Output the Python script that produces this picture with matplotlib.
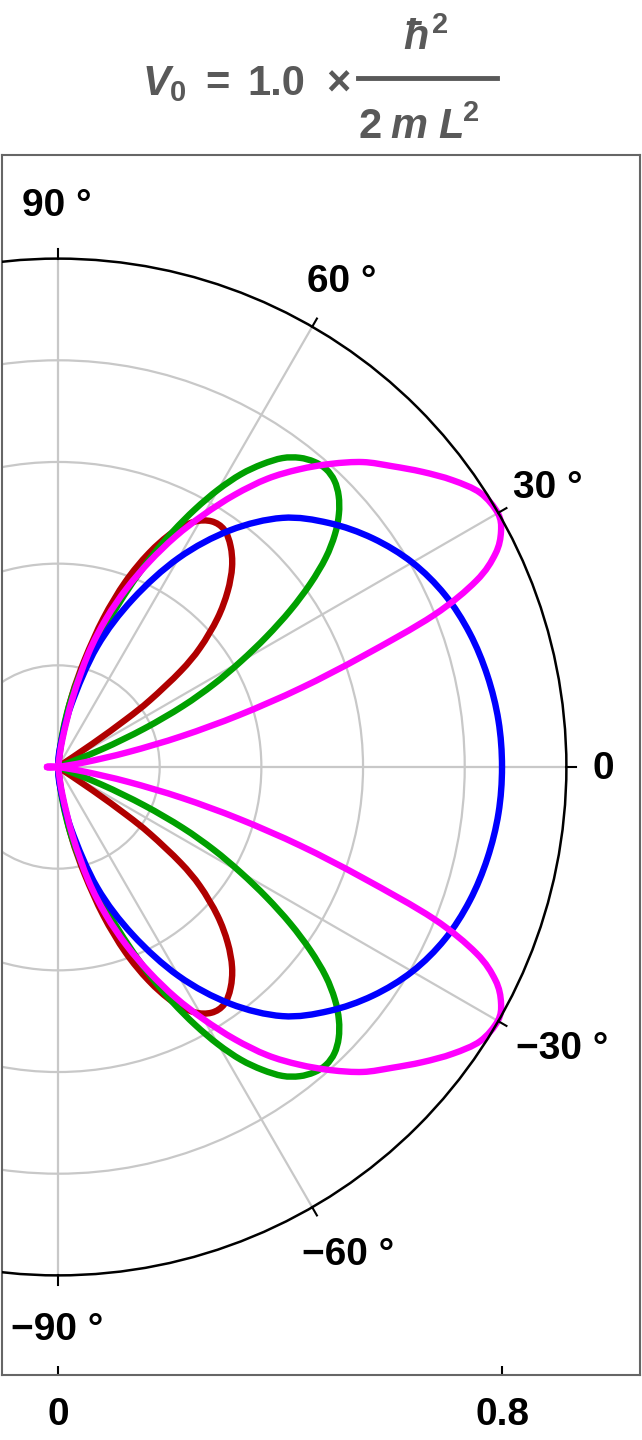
import matplotlib
matplotlib.use("Agg")
import matplotlib.pyplot as plt
from matplotlib.patches import Circle, PathPatch
from matplotlib.path import Path
from matplotlib.lines import Line2D
import numpy as np

# Полярные кривые r(theta), theta в градусах (картина симметрична относительно 0°)
blue_theta = [0, 6, 12, 18, 24, 30, 36, 42, 48, 54, 60, 66, 72, 78, 84, 90]
blue_r = [0.800, 0.798, 0.791, 0.780, 0.763, 0.737, 0.701, 0.657, 0.604, 0.527,
          0.435, 0.331, 0.228, 0.115, 0.035, 0.000]

red_theta = [33, 34, 35, 36, 38, 40, 43, 46, 49, 52, 55, 58, 61, 64, 67, 70, 73, 76,
             79, 82, 84]
red_r = [0.000, 0.075, 0.150, 0.205, 0.280, 0.334, 0.393, 0.440, 0.478, 0.505,
         0.522, 0.522, 0.505, 0.470, 0.418, 0.355, 0.280, 0.200, 0.130, 0.055, 0.000]

green_theta = [20, 22, 24, 26, 28, 30, 32, 34, 36, 38, 40, 42, 44, 46, 48, 50, 52, 54,
               56, 58, 60, 62, 64, 66, 68, 70, 72, 74, 76, 78, 80, 82, 84, 86]
green_r = [0.000, 0.085, 0.170, 0.250, 0.318, 0.380, 0.443, 0.505, 0.562, 0.612,
           0.651, 0.681, 0.703, 0.717, 0.722, 0.718, 0.707, 0.688, 0.658, 0.622,
           0.577, 0.526, 0.472, 0.416, 0.358, 0.303, 0.258, 0.220, 0.183, 0.146,
           0.109, 0.070, 0.030, 0.000]

magenta_theta = [0, 4, 8, 10, 12, 14, 16, 18, 20, 22, 24, 26, 28, 30, 33, 36, 39, 42,
                 45, 48, 51, 54, 57, 60, 63, 66, 69, 72, 75, 78, 81, 83]
magenta_r = [-0.020, -0.016, 0.000, 0.050, 0.130, 0.230, 0.340, 0.460, 0.585, 0.730,
             0.825, 0.877, 0.904, 0.915, 0.907, 0.879, 0.845, 0.810, 0.777, 0.735,
             0.690, 0.642, 0.585, 0.525, 0.466, 0.405, 0.344, 0.281, 0.212, 0.128,
             0.050, 0.000]

r_outer = 0.916
angle_ticks = [90, 60, 30, 0, -30, -60, -90]
angle_labels = ["90 °", "60 °", "30 °", "0", "\u221230 °", "\u221260 °", "\u221290 °"]
x_ticks = [0, 0.8]
x_tick_labels = ["0", "0.8"]

plt.rcParams["font.family"] = ["Liberation Sans", "DejaVu Sans"]
plt.rcParams["mathtext.fontset"] = "custom"
plt.rcParams["mathtext.rm"] = "Liberation Sans:bold"
plt.rcParams["mathtext.bf"] = "Liberation Sans:bold"
plt.rcParams["mathtext.it"] = "Liberation Sans:italic:bold"


def smooth_path(xs, ys):
    # гладкая линия через точки (сплайн Катмулла-Рома в виде кривых Безье)
    p = np.column_stack([xs, ys])
    p = np.vstack([p[:1], p, p[-1:]])
    verts = [p[1]]
    codes = [Path.MOVETO]
    for i in range(1, len(p) - 2):
        c1 = p[i] + (p[i + 1] - p[i - 1]) / 6
        c2 = p[i + 1] - (p[i + 2] - p[i]) / 6
        verts += [c1, c2, p[i + 1]]
        codes += [Path.CURVE4] * 3
    return Path(verts, codes)


def polar_branches(theta, r):
    th = np.deg2rad(theta)
    r = np.array(r)
    if theta[0] == 0:
        # одна ветвь через 0°
        th = np.concatenate([-th[::-1], th[1:]])
        r = np.concatenate([r[::-1], r[1:]])
        return [(r * np.cos(th), r * np.sin(th))]
    return [(r * np.cos(th), s * r * np.sin(th)) for s in (1, -1)]


W, H = 642, 1440
fig = plt.figure(figsize=(W / 100, H / 100), dpi=100)
ax = fig.add_axes([2 / W, 1 - 1375 / H, 638 / W, 1220 / H])

# Сетка
grid_c = "#c8c8c8"
for k in range(1, 5):
    ax.add_patch(Circle((0, 0), r_outer * k / 5, fill=False, ec=grid_c, lw=1.6, zorder=1))
for a in angle_ticks:
    t = np.deg2rad(a)
    ax.plot([0, r_outer * np.cos(t)], [0, r_outer * np.sin(t)], color=grid_c, lw=1.6, zorder=1)

# Кривые
lw = 4.6
curves = [(red_theta, red_r, "#b00000"), (green_theta, green_r, "#00a000"),
          (blue_theta, blue_r, "#0000ff"), (magenta_theta, magenta_r, "#ff00ff")]
for th, rr, col in curves:
    for bx, by in polar_branches(th, rr):
        ax.add_patch(PathPatch(smooth_path(bx, by), fill=False, ec=col, lw=lw,
                               capstyle="butt", zorder=3))

# Внешняя окружность и метки углов
ax.add_patch(Circle((0, 0), r_outer, fill=False, ec="black", lw=1.8, zorder=4))
label_pos = [(-0.002, 1.010), (0.512, 0.874), (0.883, 0.502), (0.982, -0.003),
             (0.908, -0.508), (0.523, -0.879), (-0.002, -1.014)]
for a, lab, (lx, ly) in zip(angle_ticks, angle_labels, label_pos):
    t = np.deg2rad(a)
    ax.plot([r_outer * np.cos(t), (r_outer + 0.017) * np.cos(t)],
            [r_outer * np.sin(t), (r_outer + 0.017) * np.sin(t)],
            color="black", lw=1.5, zorder=4)
    ax.text(lx, ly, lab, fontsize=28, fontweight="bold", ha="center", va="center")

ax.set_xlim(-0.1009, 1.0486)
ax.set_ylim(-1.0955, 1.1027)
ax.set_aspect("equal")
ax.set_xticks(x_ticks)
ax.set_xticklabels(x_tick_labels, fontsize=28, fontweight="bold")
ax.set_yticks([])
ax.tick_params(axis="x", direction="in", length=6.5, width=1.5, color="black", pad=16)
for s in ax.spines.values():
    s.set_color("#666666")
    s.set_linewidth(1.5)

# Заголовок
tc = "#595959"
fs = 30
fig.text(142 / W, 1 - 95 / H, r"$V_0$", fontsize=fs, color=tc, ha="left", va="baseline")
fig.text(217 / W, 1 - 95 / H, "=", fontsize=fs, color=tc, fontweight="bold",
         ha="center", va="baseline")
fig.text(276 / W, 1 - 95 / H, "1.0", fontsize=fs, color=tc, fontweight="bold",
         ha="center", va="baseline")
fig.text(338 / W, 1 - 95 / H, "\u00d7", fontsize=fs, color=tc, fontweight="bold",
         ha="center", va="baseline")
fig.add_artist(Line2D([358 / W, 497 / W], [1 - 78 / H, 1 - 78 / H], color=tc, lw=3.5))
fig.text(426 / W, 1 - 50 / H, r"$\hbar^2$", fontsize=fs, color=tc, ha="center", va="baseline")
fig.text(370 / W, 1 - 138 / H, "2", fontsize=fs, color=tc, fontweight="bold",
         ha="center", va="baseline")
fig.text(409 / W, 1 - 138 / H, r"$m$", fontsize=fs, color=tc, ha="center", va="baseline")
fig.text(450 / W, 1 - 138 / H, r"$L$", fontsize=fs, color=tc, ha="center", va="baseline")
fig.text(471 / W, 1 - 121 / H, "2", fontsize=21, color=tc, fontweight="bold",
         ha="center", va="baseline")

fig.savefig("out.png", dpi=100)
